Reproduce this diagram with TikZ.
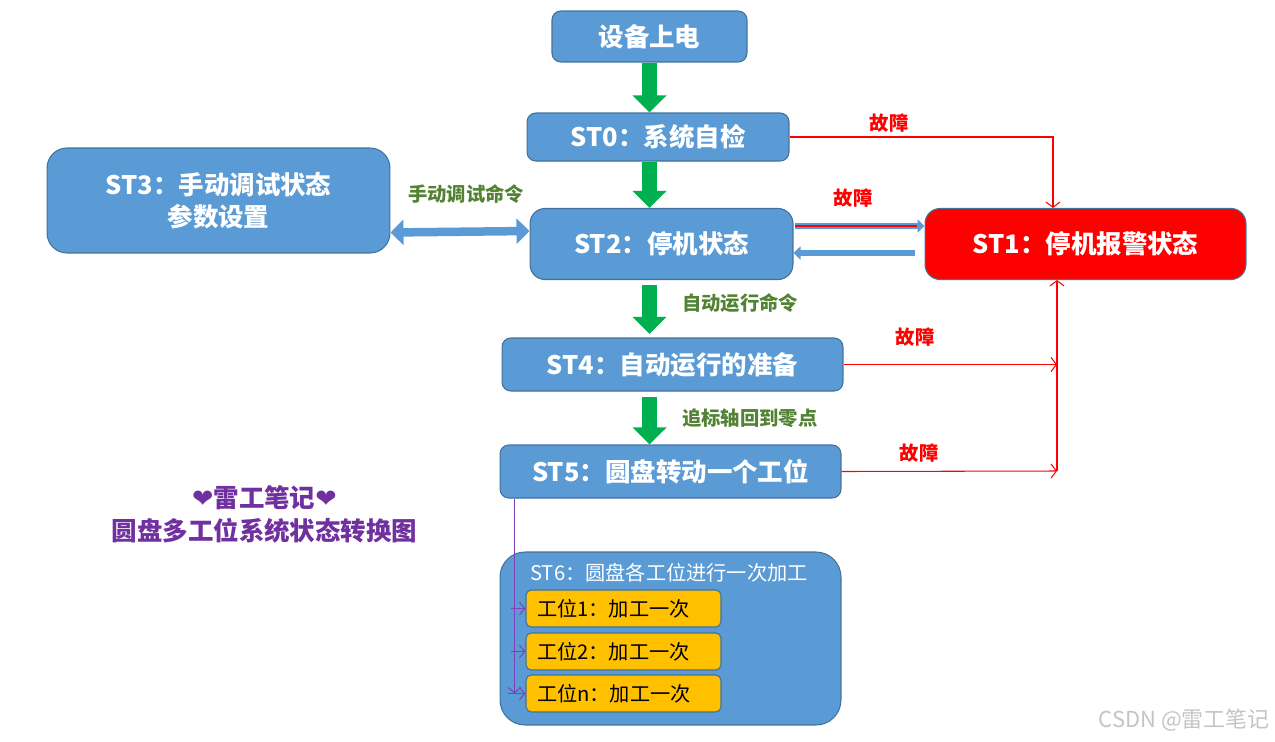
\documentclass[tikz,border=0pt]{standalone}
\usepackage{fontspec}
\setmainfont{Noto Sans CJK SC}
\newfontfamily\symfont{DejaVu Sans}
\usepackage{xcolor}
\usetikzlibrary{arrows.meta}
\definecolor{BoxBlue}{HTML}{5B9BD5}
\definecolor{EdgeBlue}{HTML}{41719C}
\definecolor{AlarmRed}{HTML}{FF0000}
\definecolor{FlowGreen}{HTML}{00B050}
\definecolor{CmdGreen}{HTML}{548235}
\definecolor{StationYellow}{HTML}{FFC000}
\definecolor{TitlePurple}{HTML}{7030A0}
\definecolor{FeedPurple}{HTML}{8040B8}
\definecolor{MarkGray}{HTML}{C4C4C4}
\tikzset{
    block/.style={rectangle, draw=EdgeBlue, fill=BoxBlue, text=white, line width=0.6pt, rounded corners=5pt, align=center, inner sep=0pt, font=\fontsize{14.5}{19}\selectfont\bfseries},
    block_r/.style={block, fill=AlarmRed},
    station/.style={rectangle, draw=EdgeBlue, fill=StationYellow, text=black, line width=0.6pt, rounded corners=3pt, minimum width=3.9cm, minimum height=0.74cm, inner ysep=0pt, inner xsep=0.22cm, text width=3.46cm, align=left, font=\fontsize{11.5}{14}\selectfont},
    flow/.style={line width=0.31cm, draw=FlowGreen, -{Triangle[length=0.34cm, width=0.66cm]}},
    fault/.style={draw=AlarmRed, line width=0.6pt, -{Straight Barb[length=3pt, width=8pt]}},
    feed/.style={draw=FeedPurple, line width=0.6pt, -{Straight Barb[length=3pt, width=7pt]}},
    lbl/.style={font=\fontsize{11}{13}\selectfont\bfseries, text=CmdGreen},
    lbl_r/.style={font=\fontsize{11}{13}\selectfont\bfseries, text=AlarmRed},
}

\begin{document}
\begin{tikzpicture}[x=0.02cm, y=-0.02cm]
\useasboundingbox (0,0) rectangle (1275,741);
% power on
\node[block, minimum width=3.9cm, minimum height=1.02cm] (power) at (649.5,36.5) {设备上电};
% ST0
\node[block, minimum width=5.24cm, minimum height=0.96cm] (st0) at (658,137) {ST0：系统自检};
% ST3
\node[block, minimum width=6.86cm, minimum height=2.1cm, rounded corners=0.4cm, font=\fontsize{14.5}{18.5}\selectfont\bfseries] (st3) at (218.5,200.5) {ST3：手动调试状态\\参数设置};
% ST2
\node[block, minimum width=5.26cm, minimum height=1.42cm, rounded corners=0.3cm] (st2) at (661.5,244) {ST2：停机状态};
% ST1
\node[block_r, minimum width=6.42cm, minimum height=1.42cm, rounded corners=0.3cm] (st1) at (1085.5,244) {ST1：停机报警状态};
% ST4
\node[block, minimum width=6.82cm, minimum height=1.06cm] (st4) at (672.5,364.5) {ST4：自动运行的准备};
% ST5
\node[block, minimum width=6.82cm, minimum height=1.06cm] (st5) at (670.5,471.5) {ST5：圆盘转动一个工位};
% ST6
\node[block, minimum width=6.82cm, minimum height=3.46cm, rounded corners=0.5cm] (st6) at (670.5,638.5) {};
\node[anchor=west, text=white, inner sep=0pt, font=\fontsize{11.5}{14}\selectfont] (st6t) at (530,573) {ST6：圆盘各工位进行一次加工};
\node[station] (w1) at (623.5,608.5) {工位1：加工一次};
\node[station] (w2) at (623.5,651.5) {工位2：加工一次};
\node[station] (wn) at (623.5,693.5) {工位n：加工一次};

% main flow
\draw[flow] (power.south) -- (power.south |- st0.north);
\draw[flow] (st0.south -| power) -- (st2.north -| power);
\draw[flow, shorten <=3pt] (st2.south -| power) -- ([yshift=2pt]st4.north -| power);
\draw[flow, shorten <=3pt] (st4.south -| power) -- (st5.north -| power);
\node[lbl, anchor=west] (cmd_auto) at (676,303) {自动运行命令};
\node[lbl, anchor=west] (cmd_zero) at (676,418) {追标轴回到零点};

% manual mode
\draw[line width=0.17cm, draw=BoxBlue, {Triangle[length=0.26cm, width=0.5cm]}-{Triangle[length=0.26cm, width=0.5cm]}] ([yshift=-0.64cm]st3.east) -- ([yshift=0.26cm]st2.west);
\node[lbl] (cmd_man) at (466,194) {手动调试命令};

% ST2 <-> ST1
\coordinate (to1) at (795,226);
\coordinate (to2) at (915,253);
\draw[line width=0.11cm, draw=BoxBlue, -{Triangle[length=0.14cm, width=0.26cm]}] (to1) -- (to1 -| st1.west);
\draw[line width=0.05cm, draw=AlarmRed] (to1) -- ([xshift=-0.16cm]to1 -| st1.west);
\draw[line width=0.12cm, draw=BoxBlue, -{Triangle[length=0.14cm, width=0.26cm]}] (to2) -- (to2 -| st2.east);
\node[lbl_r] (f2) at (853,198) {故障};

% faults to ST1
\coordinate (rail) at (1057,471);
\draw[fault] (st0.east) -| ([xshift=-0.65cm]st1.north);
\draw[fault] (st4.east) -- (st4.east -| rail);
\draw[fault] (st5.east) -- (rail);
\draw[fault] (rail) -- (rail |- st1.south);
\node[lbl_r] (f0) at (889,123) {故障};
\node[lbl_r] (f4) at (915,337) {故障};
\node[lbl_r] (f5) at (919,453) {故障};

% stations
\coordinate (bus) at ([xshift=0.3cm]st5.south west);
\draw[feed] (bus) -- (bus |- wn.west);
\draw[feed] ([xshift=-0.3cm]w1.west) -- (w1.west);
\draw[feed] ([xshift=-0.3cm]w2.west) -- (w2.west);
\draw[feed] ([xshift=-0.36cm]wn.west) -- (wn.west);

% title
\node[text=TitlePurple, font=\fontsize{14.5}{17}\selectfont\bfseries] (brand) at (264.5,498) {{\mdseries\symfont ❤}雷工笔记{\mdseries\symfont ❤}};
\node[text=TitlePurple, font=\fontsize{14.5}{17}\selectfont\bfseries] (title) at (264.5,531) {圆盘多工位系统状态转换图};
\node[text=MarkGray, font=\fontsize{12.5}{15}\selectfont, anchor=east, inner sep=0pt] (mark) at (1270,720) {CSDN @雷工笔记};
\end{tikzpicture}
\end{document}
